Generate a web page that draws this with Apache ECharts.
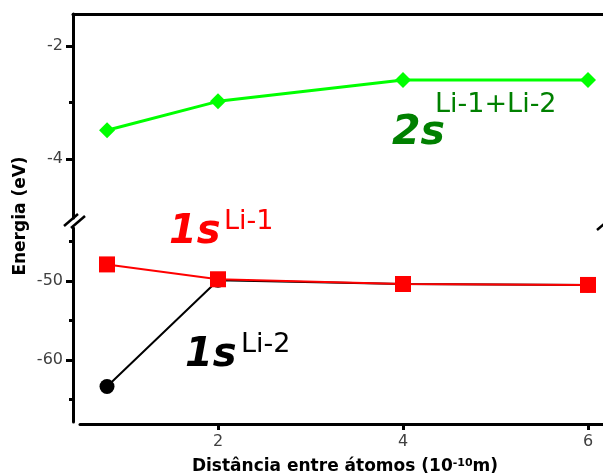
<!DOCTYPE html>
<html>
<head>
<meta charset="utf-8">
<script src="https://cdn.jsdelivr.net/npm/echarts@6/dist/echarts.min.js"></script>
<style>html,body{margin:0;padding:0;background:#fff}#c{width:603px;height:474px}</style>
</head>
<body>
<div id="c"></div>
<script>
// ---- data ----
const xValues = [0.8, 2, 4, 6];
const energy2s = [-3.49, -2.98, -2.60, -2.60];        // 2s (Li-1+Li-2)
const energy1sLi1 = [-47.9, -49.78, -50.38, -50.5];   // 1s Li-1
const energy1sLi2 = [-63.35, -49.9, -50.38, -50.5];   // 1s Li-2
const xTicks = [2, 4, 6];
const upperMajorTicks = [-2, -4];
const upperMinorTicks = [-3];
const lowerMajorTicks = [-50, -60];
const lowerMinorTicks = [-45, -55, -65];

const pts = arr => xValues.map((x, i) => [x, arr[i]]);

const chart = echarts.init(document.getElementById('c'), null, {renderer: 'canvas'});
const lbl = {fontFamily: 'DejaVu Sans', fontSize: 16, color: '#404040'};
const black3 = {color: '#000', width: 3};

function yMajor(grid, min, max, ticks, offset) {
  return {
    type: 'value', gridIndex: grid, position: 'left', offset: offset, min: min, max: max,
    axisLine: {show: true, lineStyle: black3},
    axisTick: {show: true, customValues: ticks, length: 7, lineStyle: black3},
    axisLabel: Object.assign({customValues: ticks, margin: 10}, lbl),
    splitLine: {show: false}
  };
}
function yMinor(grid, min, max, ticks, offset) {
  return {
    type: 'value', gridIndex: grid, position: 'left', offset: offset, min: min, max: max,
    axisLine: {show: false},
    axisTick: {show: true, customValues: ticks, length: 4, lineStyle: black3},
    axisLabel: {show: false},
    splitLine: {show: false}
  };
}

const option = {
  animation: false,
  backgroundColor: '#fff',
  grid: [
    {left: 73, width: 537, top: 14, height: 204, outerBoundsMode: 'none', containLabel: false},
    {left: 80, width: 530, top: 228, height: 194, outerBoundsMode: 'none', containLabel: false}
  ],
  xAxis: [
    {type: 'value', gridIndex: 0, position: 'top', min: 0.432, max: 6.238,
     axisLine: {show: true, lineStyle: black3}, axisTick: {show: false},
     axisLabel: {show: false}, splitLine: {show: false}},
    {type: 'value', gridIndex: 1, position: 'bottom', offset: 2, min: 0.508, max: 6.238,
     axisLine: {show: true, lineStyle: black3},
     axisTick: {show: true, customValues: xTicks, length: 6, lineStyle: black3},
     axisLabel: Object.assign({customValues: xTicks, margin: 10}, lbl),
     splitLine: {show: false},
     name: 'Distância entre átomos (10{sup|-10}m)',
     nameLocation: 'middle', nameGap: 34,
     nameTextStyle: {fontFamily: 'DejaVu Sans', fontWeight: 'bold', fontSize: 17, color: '#000',
       rich: {sup: {fontFamily: 'DejaVu Sans', fontWeight: 'bold', fontSize: 11, color: '#000', verticalAlign: 'top', lineHeight: 12, padding: [0, 0, 8, 0]}}}
    }
  ],
  yAxis: [
    yMajor(0, -5.044, -1.434, upperMajorTicks, 0),
    yMinor(0, -5.044, -1.434, upperMinorTicks, 0),
    yMajor(1, -67.85, -43.29, lowerMajorTicks, 7),
    yMinor(1, -67.85, -43.29, lowerMinorTicks, 7)
  ],
  series: [
    {type: 'line', xAxisIndex: 1, yAxisIndex: 2, data: pts(energy1sLi2),
     symbol: 'circle', symbolSize: 15, lineStyle: {color: '#000', width: 2},
     itemStyle: {color: '#000'}},
    {type: 'line', xAxisIndex: 1, yAxisIndex: 2, data: pts(energy1sLi1),
     symbol: 'rect', symbolSize: 16, lineStyle: {color: '#ff0000', width: 2},
     itemStyle: {color: '#ff0000'}},
    {type: 'line', xAxisIndex: 0, yAxisIndex: 0, data: pts(energy2s),
     symbol: 'diamond', symbolSize: 16, lineStyle: {color: '#00ff00', width: 3},
     itemStyle: {color: '#00ff00'}}
  ],
  graphic: [
    // axis break marks
    {type: 'line', shape: {x1: 64, y1: 226, x2: 78, y2: 214}, style: {stroke: '#000', lineWidth: 2.5}},
    {type: 'line', shape: {x1: 71, y1: 228, x2: 85, y2: 216}, style: {stroke: '#000', lineWidth: 2.5}},
    {type: 'line', shape: {x1: 597, y1: 230, x2: 611, y2: 218}, style: {stroke: '#000', lineWidth: 2.5}},
    {type: 'line', shape: {x1: 604, y1: 232, x2: 618, y2: 220}, style: {stroke: '#000', lineWidth: 2.5}},
    // y axis title
    {type: 'text', x: 21, y: 216, rotation: Math.PI / 2,
     style: {text: 'Energia (eV)', fontFamily: 'DejaVu Sans', fontWeight: 'bold', fontSize: 17, fill: '#000', align: 'center', verticalAlign: 'middle'}},
    // annotations
    {type: 'text', x: 392, y: 133, style: {text: '2s', fontFamily: 'DejaVu Sans', fontStyle: 'italic', fontWeight: 'bold', fontSize: 41, fill: '#008000', align: 'left', verticalAlign: 'middle'}},
    {type: 'text', x: 435, y: 105, style: {text: 'Li-1+Li-2', fontFamily: 'DejaVu Sans', fontSize: 27, fill: '#008000', align: 'left', verticalAlign: 'middle'}},
    {type: 'text', x: 169, y: 233, style: {text: '1s', fontFamily: 'DejaVu Sans', fontStyle: 'italic', fontWeight: 'bold', fontSize: 40, fill: '#ff0000', align: 'left', verticalAlign: 'middle'}},
    {type: 'text', x: 224, y: 222, style: {text: 'Li-1', fontFamily: 'DejaVu Sans', fontSize: 27, fill: '#ff0000', align: 'left', verticalAlign: 'middle'}},
    {type: 'text', x: 185, y: 356, style: {text: '1s', fontFamily: 'DejaVu Sans', fontStyle: 'italic', fontWeight: 'bold', fontSize: 40, fill: '#000', align: 'left', verticalAlign: 'middle'}},
    {type: 'text', x: 241, y: 345, style: {text: 'Li-2', fontFamily: 'DejaVu Sans', fontSize: 27, fill: '#000', align: 'left', verticalAlign: 'middle'}}
  ]
};
chart.setOption(option);
</script>
</body>
</html>
